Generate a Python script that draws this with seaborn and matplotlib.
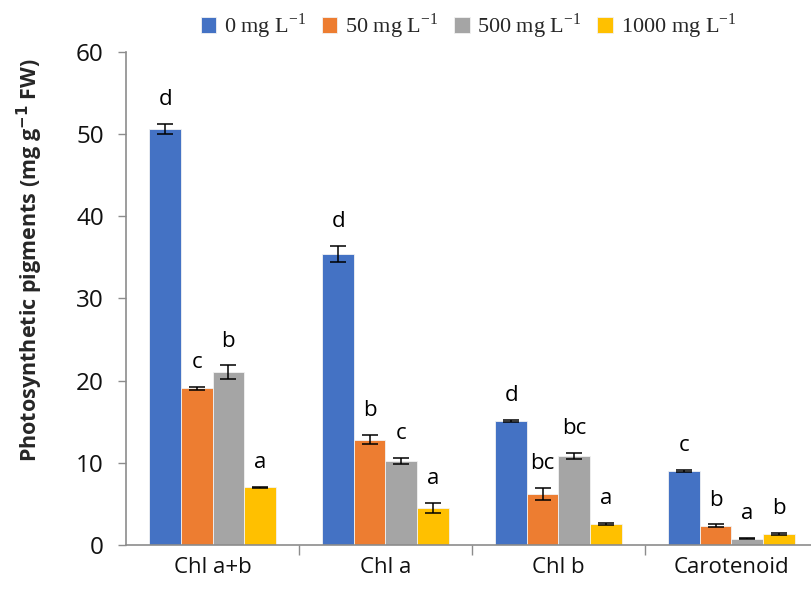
import numpy as np
import pandas as pd
import matplotlib
matplotlib.use("Agg")
import matplotlib.pyplot as plt
import seaborn as sns

# Pigment contents per treatment (mg g-1 FW), with standard errors and significance letters
pigments = ["Chl a+b", "Chl a", "Chl b", "Carotenoid"]
treatments = ["0 mg L$^{-1}$", "50 mg L$^{-1}$", "500 mg L$^{-1}$", "1000 mg L$^{-1}$"]
values_0 = [50.6, 35.4, 15.1, 9.0]
values_50 = [19.05, 12.8, 6.2, 2.35]
values_500 = [21.0, 10.2, 10.8, 0.77]
values_1000 = [7.0, 4.5, 2.55, 1.34]
err_0 = [0.6, 0.95, 0.08, 0.1]
err_50 = [0.15, 0.55, 0.7, 0.15]
err_500 = [0.85, 0.35, 0.35, 0.05]
err_1000 = [0.08, 0.6, 0.15, 0.08]
letters_0 = ["d", "d", "d", "c"]
letters_50 = ["c", "b", "bc", "b"]
letters_500 = ["b", "c", "bc", "a"]
letters_1000 = ["a", "a", "a", "b"]

colors = ["#4472C4", "#ED7D31", "#A5A5A5", "#FFC000"]

vals = [values_0, values_50, values_500, values_1000]
errs = [err_0, err_50, err_500, err_1000]
lets = [letters_0, letters_50, letters_500, letters_1000]

rows = []
for t, v, e, l in zip(treatments, vals, errs, lets):
    for p, vv, ee, ll in zip(pigments, v, e, l):
        rows.append({"Pigment": p, "Treatment": t, "Value": vv, "SE": ee, "Letter": ll})
df = pd.DataFrame(rows)

sns.set_theme(style="white")
plt.rcParams["font.family"] = ["Open Sans", "DejaVu Sans"]
plt.rcParams["mathtext.fontset"] = "custom"
plt.rcParams["mathtext.rm"] = "Liberation Serif"

fig = plt.figure(figsize=(8.11, 5.94), dpi=100)
ax = fig.add_axes([0.1554, 0.0825, 0.8446, 0.83])

sns.barplot(data=df, x="Pigment", y="Value", hue="Treatment", order=pigments,
            hue_order=treatments, palette=colors, saturation=1, width=0.73,
            errorbar=None, edgecolor="#f2f2f2", linewidth=0.6, ax=ax, legend=True)

# error bars and letters on top of each bar
for ti, t in enumerate(treatments):
    container = ax.containers[ti]
    sub = df[df["Treatment"] == t].set_index("Pigment").loc[pigments]
    for patch, (_, r) in zip(container.patches, sub.iterrows()):
        xc = patch.get_x() + patch.get_width() / 2
        ax.errorbar(xc, r["Value"], yerr=r["SE"], fmt="none", ecolor="black",
                    elinewidth=1.1, capsize=5.5, capthick=1.1, zorder=5)
        ax.annotate(r["Letter"], (xc, r["Value"] + r["SE"]), xytext=(0, 10),
                    textcoords="offset points", ha="center", va="bottom",
                    fontsize=16, color="black")

ax.set_ylim(0, 60)
ax.set_yticks(range(0, 61, 10))
ax.set_xlim(-0.5, 3.46)
ax.set_xlabel("")
ax.set_ylabel("Photosynthetic pigments (mg g$^{\\mathbf{-1}}$ FW)", fontsize=15.5,
              fontweight="bold", va="center")
ax.yaxis.label.set_math_fontfamily("dejavusans")
ax.yaxis.set_label_coords(-0.14, 0.578)

for s in ["top", "right"]:
    ax.spines[s].set_visible(False)
for s in ["left", "bottom"]:
    ax.spines[s].set_color("#8c8c8c")
    ax.spines[s].set_linewidth(1.2)

ax.tick_params(axis="y", which="major", length=6, width=1, color="#8c8c8c",
               direction="out", left=True, labelsize=17.5, pad=10, labelcolor="#111111")
ax.tick_params(axis="x", which="major", length=0, labelsize=16, pad=9, labelcolor="#111111")
ax.set_xticks([0.5, 1.5, 2.5], minor=True)
ax.tick_params(axis="x", which="minor", length=7, width=1, color="#8c8c8c",
               direction="out", bottom=True)

leg = ax.legend(loc="upper center", bbox_to_anchor=(0.5, 1.10), ncol=4,
                frameon=False, handlelength=0.7, handleheight=0.7,
                handletextpad=0.35, columnspacing=0.7, borderaxespad=0,
                prop={"family": "Liberation Serif", "size": 16})

fig.savefig("out.png", dpi=100)
